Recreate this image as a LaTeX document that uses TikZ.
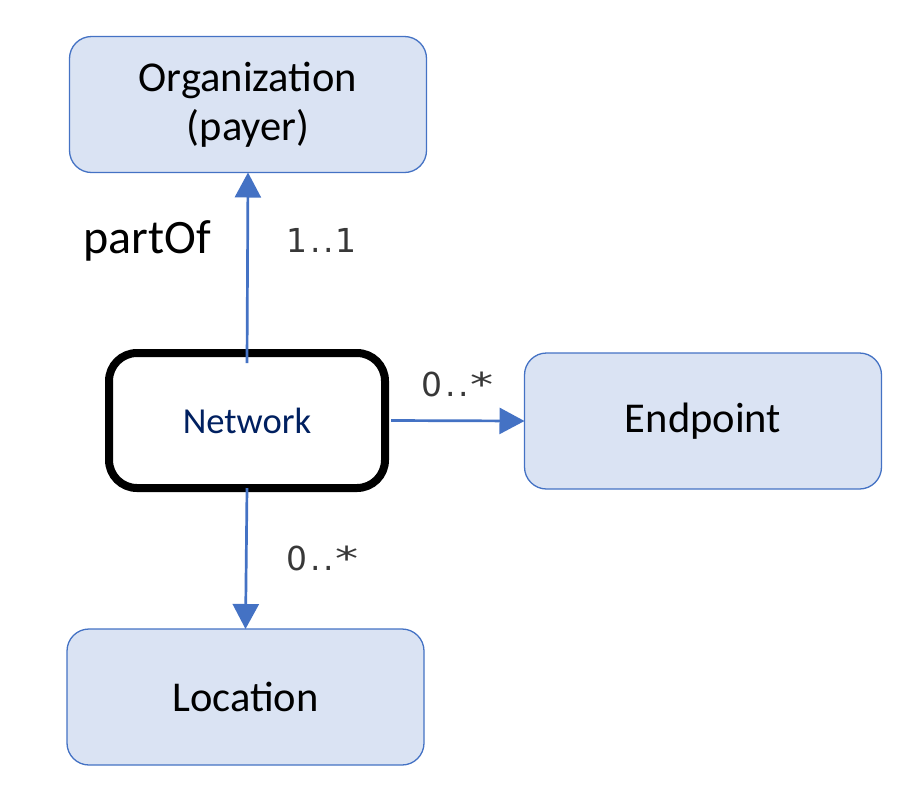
\documentclass[tikz,border=0pt]{standalone}
\usepackage{fontspec}
\usepackage{graphicx}
\setmainfont{Carlito}
\newfontfamily\multfont{DejaVu Sans}
\usetikzlibrary{arrows.meta}
\definecolor{boxfill}{HTML}{DAE3F3}
\definecolor{boxline}{HTML}{4472C4}
\definecolor{navy}{HTML}{002060}
\definecolor{labgray}{HTML}{383838}
\newcommand{\dd}{\kern3pt.\kern3pt.\kern1.5pt}
\newcommand{\wideast}{\scalebox{1.4}[1]{*}}
\tikzset{
  cls/.style={draw=boxline, fill=boxfill, line width=1.3pt, rounded corners=22pt,
    minimum width=357pt, minimum height=136pt, inner sep=0pt, outer sep=0pt,
    align=center, font=\fontsize{42.5}{49.5}\selectfont},
  focus/.style={draw=black, fill=white, line width=8pt, rounded corners=28pt,
    minimum width=276pt, minimum height=135pt, inner sep=0pt, outer sep=0pt,
    text=navy, font=\fontsize{36.6}{44}\selectfont},
  conn/.style={draw=boxline, line width=2.7pt, -{Triangle[length=25pt,width=26pt]}},
  mult/.style={text=labgray, anchor=base, inner sep=0pt, font=\multfont\fontsize{33}{38}\selectfont},
  role/.style={text=black, anchor=base, inner sep=0pt, font=\fontsize{48}{56}\selectfont}
}
\begin{document}
\begin{tikzpicture}[x=1pt, y=-1pt]
\useasboundingbox (0,0) rectangle (912,796);
\node[cls] (org) at (248,104.5) {Organization\\(payer)};
\node[focus] (net) at (247,420.5) {Network};
\node[cls] (endp) at (703,421) {Endpoint};
\node[cls] (loc) at (245.5,697) {Location};
\draw[conn] ([yshift=-10pt]net.north) -- (org.south);
\draw[conn] ([xshift=6pt]net.east) -- (endp.west);
\draw[conn] (net.south) -- (loc.north);
\node[role] (partof) at (147.5,253) {partOf};
\node[mult] (m1) at (321.5,252) {1\dd 1};
\node[mult] (m2) at (457.5,396.5) {0\dd\wideast};
\node[mult] (m3) at (322.5,570.7) {0\dd\wideast};
\end{tikzpicture}
\end{document}
